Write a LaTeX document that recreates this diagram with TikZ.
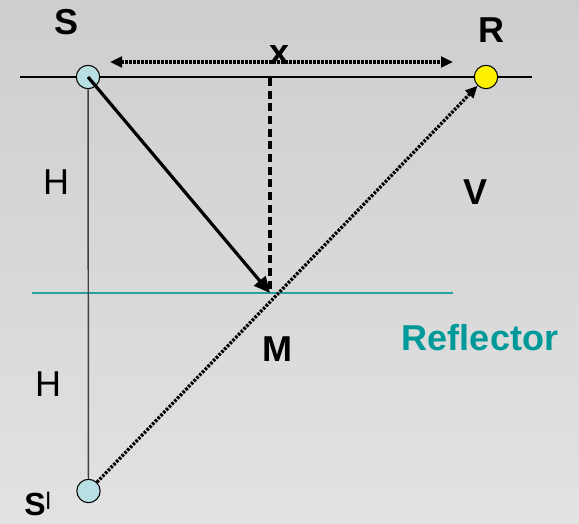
\documentclass[tikz,border=0pt]{standalone}
\usepackage{fontspec}
\setmainfont{Liberation Sans}
\usetikzlibrary{arrows.meta}
\definecolor{bgtop}{RGB}{206,206,206}
\definecolor{bgbot}{RGB}{226,226,226}
\definecolor{tealr}{RGB}{0,153,153}
\definecolor{tealline}{RGB}{40,160,160}
\definecolor{pointblue}{RGB}{184,224,228}
\tikzset{
  pt/.style={circle,draw=black,line width=0.8pt,inner sep=0pt,minimum size=17.5pt},
  lbl/.style={font=\fontsize{27}{30}\selectfont\bfseries,anchor=base,inner sep=0pt},
  lblr/.style={font=\fontsize{27}{30}\selectfont,anchor=base,inner sep=0pt},
  dotline/.style={line width=2.5pt,dash pattern=on 1.9pt off 1.1pt},
  tip/.style={-{Triangle[length=9pt,width=8pt]}},
}
\begin{document}
\begin{tikzpicture}[x=0.75pt,y=-0.75pt]
\shade[top color=bgtop,bottom color=bgbot] (0,0) rectangle (579,524);
\useasboundingbox (0,0) rectangle (579,524);
% reference lines
\coordinate (L1) at (20,77);
\coordinate (L2) at (532,77);
\draw[line width=1.1pt] (L1) -- (L2);
\coordinate (F1) at (32,293);
\coordinate (F2) at (453,293);
\draw[tealline,line width=1.3pt] (F1) -- (F2);
% points
\coordinate (M) at (270,293);
\coordinate (T) at (270,78);
\node[pt,fill=pointblue] (S) at (88,77) {};
\node[pt,fill=yellow] (R) at (486,77) {};
\node[pt,fill=pointblue] (Sp) at (88.5,491) {};
% connectors
\draw[line width=1.1pt,black!75] (S) -- (Sp);
\draw[line width=2.4pt,dash pattern=on 6pt off 3.5pt] (T) -- (M);
\draw[line width=2.4pt,-{Triangle[length=12pt,width=11pt]}] (S.center) -- (M);
\draw[dotline,tip] (Sp) -- (R);
\coordinate (XL) at (110,62);
\coordinate (XR) at (453,62);
\draw[dotline,{Triangle[length=9pt,width=8pt]}-{Triangle[length=9pt,width=8pt]}] (XL) -- (XR);
% labels
\node[lbl] (lS) at (66.5,35) {S};
\node[lbl] (lR) at (491.5,43) {R};
\node[lbl] (lx) at (280,65) {x};
\node[lblr] (lH1) at (56,195) {H};
\node[lblr] (lH2) at (48,397) {H};
\node[lbl] (lV) at (475.5,205) {V};
\node[lbl] (lM) at (277.5,362) {M};
\node[lbl,text=tealr] (lRef) at (480,350) {Reflector};
\node[anchor=base west,inner sep=0pt] (lSp) at (24,515) {\fontsize{24}{26}\selectfont\bfseries S\raisebox{4pt}{\mdseries\fontsize{18}{20}\selectfont l}};
\end{tikzpicture}
\end{document}
